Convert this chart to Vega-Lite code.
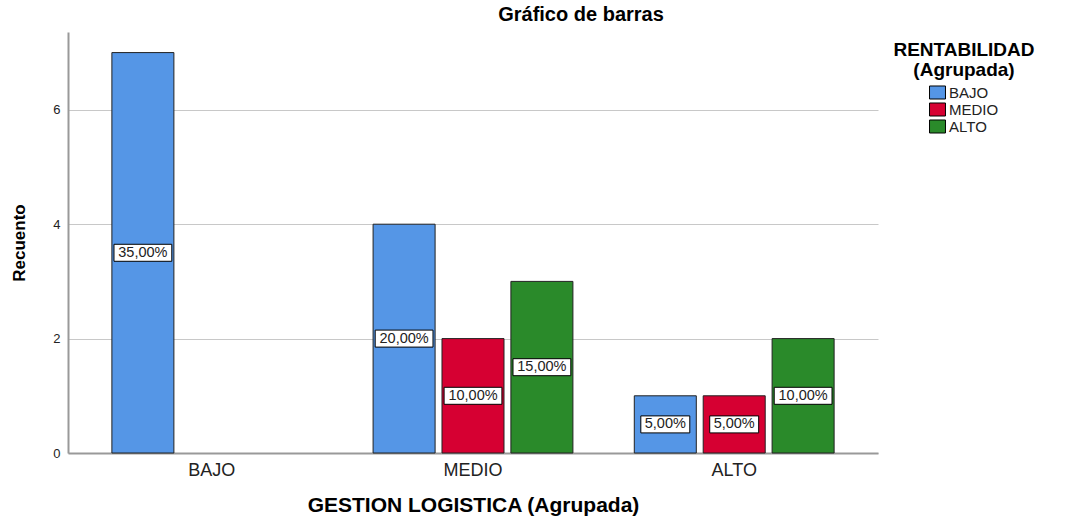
{
  "$schema": "https://vega.github.io/schema/vega-lite/v6.json",
  "width": 810,
  "height": 421,
  "autosize": {"type": "none"},
  "padding": {"left": 68, "top": 32, "right": 187, "bottom": 66},
  "background": "white",
  "config": {"font": "Liberation Sans", "view": {"stroke": null}},
  "title": {"text": "Gráfico de barras", "fontSize": 20, "fontWeight": "bold", "color": "black", "anchor": "middle", "frame": "group", "dx": 108, "offset": 7},
  "data": {
    "values": [
      {"gestion": "BAJO", "rentabilidad": "BAJO", "recuento": 7, "pct": "35,00%"},
      {"gestion": "MEDIO", "rentabilidad": "BAJO", "recuento": 4, "pct": "20,00%"},
      {"gestion": "MEDIO", "rentabilidad": "MEDIO", "recuento": 2, "pct": "10,00%"},
      {"gestion": "MEDIO", "rentabilidad": "ALTO", "recuento": 3, "pct": "15,00%"},
      {"gestion": "ALTO", "rentabilidad": "BAJO", "recuento": 1, "pct": "5,00%"},
      {"gestion": "ALTO", "rentabilidad": "MEDIO", "recuento": 1, "pct": "5,00%"},
      {"gestion": "ALTO", "rentabilidad": "ALTO", "recuento": 2, "pct": "10,00%"}
    ]
  },
  "encoding": {
    "x": {
      "field": "gestion", "type": "nominal", "sort": ["BAJO", "MEDIO", "ALTO"],
      "scale": {"paddingInner": 0.235, "paddingOuter": 0.168},
      "axis": {
        "title": "GESTION LOGISTICA (Agrupada)", "titleFontSize": 21, "titleFontWeight": "bold", "titleColor": "black", "titlePadding": 15,
        "labelFontSize": 18, "labelColor": "#222", "labelAngle": 0, "labelPadding": 8,
        "ticks": false, "domainColor": "#999", "domainWidth": 2, "grid": false
      }
    },
    "xOffset": {
      "field": "rentabilidad", "type": "nominal",
      "scale": {"domain": ["BAJO", "MEDIO", "ALTO"], "paddingInner": 0.1, "paddingOuter": 0}
    }
  },
  "layer": [
    {
      "mark": {"type": "bar", "stroke": "#222", "strokeWidth": 1},
      "encoding": {
        "y": {
          "field": "recuento", "type": "quantitative",
          "scale": {"domain": [0, 7.36], "nice": false, "zero": true},
          "axis": {
            "title": "Recuento", "titleFontSize": 17, "titleFontWeight": "bold", "titleColor": "black", "titlePadding": 24,
            "values": [0, 2, 4, 6], "labelFontSize": 13, "labelColor": "#222", "labelPadding": 8,
            "ticks": false, "domainColor": "#999", "domainWidth": 2,
            "grid": true, "gridColor": "#c8c8c8", "gridWidth": 1
          }
        },
        "color": {
          "field": "rentabilidad", "type": "nominal",
          "scale": {"domain": ["BAJO", "MEDIO", "ALTO"], "range": ["#5596e6", "#d60032", "#2a8a2a"]},
          "legend": {
            "title": ["RENTABILIDAD", "(Agrupada)"], "orient": "right", "offset": 6,
            "titleFontSize": 19, "titleFontWeight": "bold", "titleColor": "black", "titleAnchor": "middle", "titleAlign": "center", "titleLineHeight": 20, "titlePadding": 5, "titleLimit": 400,
            "labelFontSize": 15, "labelColor": "#222", "labelOffset": 4,
            "symbolType": "M-1.14,-0.93L1.14,-0.93L1.14,0.93L-1.14,0.93Z", "symbolSize": 196,
            "symbolStrokeColor": "black", "symbolStrokeWidth": 1, "rowPadding": -2, "padding": 9
          }
        }
      }
    },
    {
      "mark": {"type": "point", "filled": true, "fill": "white", "stroke": "black", "strokeWidth": 1, "size": 289, "opacity": 1},
      "encoding": {
        "y": {"field": "recuento", "type": "quantitative", "scale": {"domain": [0, 14.72], "nice": false}, "axis": null},
        "shape": {
          "field": "pct", "type": "nominal", "legend": null,
          "scale": {
            "domain": ["35,00%", "20,00%", "10,00%", "15,00%", "5,00%"],
            "range": [
              "M-3.4,-1L3.4,-1L3.4,1L-3.4,1Z",
              "M-3.4,-1L3.4,-1L3.4,1L-3.4,1Z",
              "M-3.4,-1L3.4,-1L3.4,1L-3.4,1Z",
              "M-3.4,-1L3.4,-1L3.4,1L-3.4,1Z",
              "M-2.88,-1L2.88,-1L2.88,1L-2.88,1Z"
            ]
          }
        }
      }
    },
    {
      "mark": {"type": "text", "fontSize": 14.5, "color": "#222", "baseline": "middle", "align": "center"},
      "encoding": {
        "y": {"field": "recuento", "type": "quantitative", "scale": {"domain": [0, 14.72], "nice": false}, "axis": null},
        "text": {"field": "pct", "type": "nominal"}
      }
    }
  ],
  "resolve": {"scale": {"y": "independent"}}
}
